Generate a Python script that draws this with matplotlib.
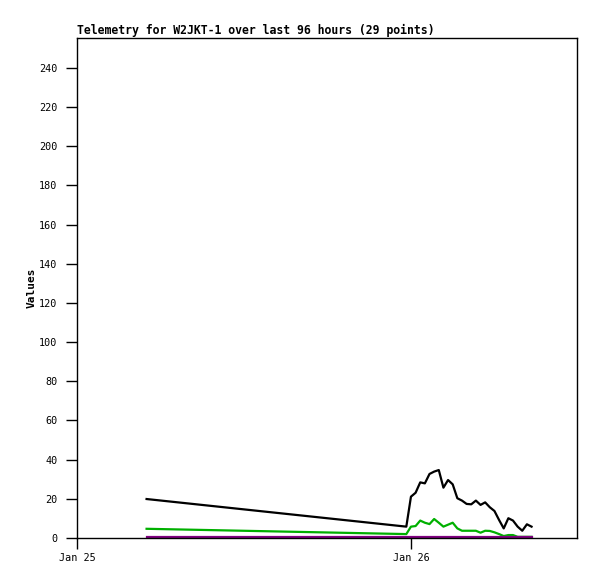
import numpy as np
import pandas as pd
import matplotlib
matplotlib.use("Agg")
import matplotlib.pyplot as plt
import matplotlib.dates as mdates


# 29 telemetry samples: one early reading, then every 20 min from 23:40
times = [pd.Timestamp("2024-01-25 05:00")] + list(
    pd.date_range("2024-01-25 23:40", periods=28, freq="20min"))

black_vals = [19.9, 5.8, 21.1, 23.1, 28.4, 27.9, 32.7, 33.9, 34.7, 25.7,
              29.6, 27.4, 20.3, 19.1, 17.4, 17.2, 19.1, 16.9, 18.2, 15.7,
              13.8, 9.2, 4.9, 10.1, 8.9, 5.8, 3.7, 7.0, 5.8]
green_vals = [4.7, 2.0, 5.8, 6.1, 8.9, 7.8, 7.1, 9.7, 7.8, 5.8,
              6.8, 7.8, 4.9, 3.7, 3.7, 3.7, 3.7, 2.7, 3.7, 3.6,
              2.9, 2.0, 1.0, 1.5, 1.5, 0.6, 0.6, 0.6, 0.6]
purple_vals = [0.3] * 29

y_ticks = list(range(0, 241, 20))
x_ticks = [pd.Timestamp("2024-01-25"), pd.Timestamp("2024-01-26")]

mono = "DejaVu Sans Mono"

fig = plt.figure(figsize=(5.97, 5.79), dpi=100)
ax = fig.add_axes([77 / 597, 41 / 579, 500 / 597, 500 / 579])

ax.plot(times, black_vals, color="black", lw=1.6)
ax.plot(times, green_vals, color="#00b000", lw=1.6)
ax.plot(times, purple_vals, color="#800080", lw=1.6)

ax.set_xlim(pd.Timestamp("2024-01-25 00:00"), pd.Timestamp("2024-01-26 11:56"))
ax.set_ylim(0, 255.3)
ax.set_yticks(y_ticks)
ax.set_xticks(x_ticks)
ax.xaxis.set_major_formatter(mdates.DateFormatter("%b %d"))

ax.tick_params(direction="out", length=8, width=1, labelsize=7.3, pad=6)
ax.tick_params(axis="x", pad=3)
for lab in ax.get_xticklabels() + ax.get_yticklabels():
    lab.set_family(mono)
for sp in ax.spines.values():
    sp.set_linewidth(1)

ax.set_ylabel("Values", family=mono, fontweight="bold", fontsize=8, labelpad=2)
ax.set_title("Telemetry for W2JKT-1 over last 96 hours (29 points)",
             loc="left", family=mono, fontweight="bold", fontsize=8.3, pad=3)

fig.savefig("out.png", dpi=100)
